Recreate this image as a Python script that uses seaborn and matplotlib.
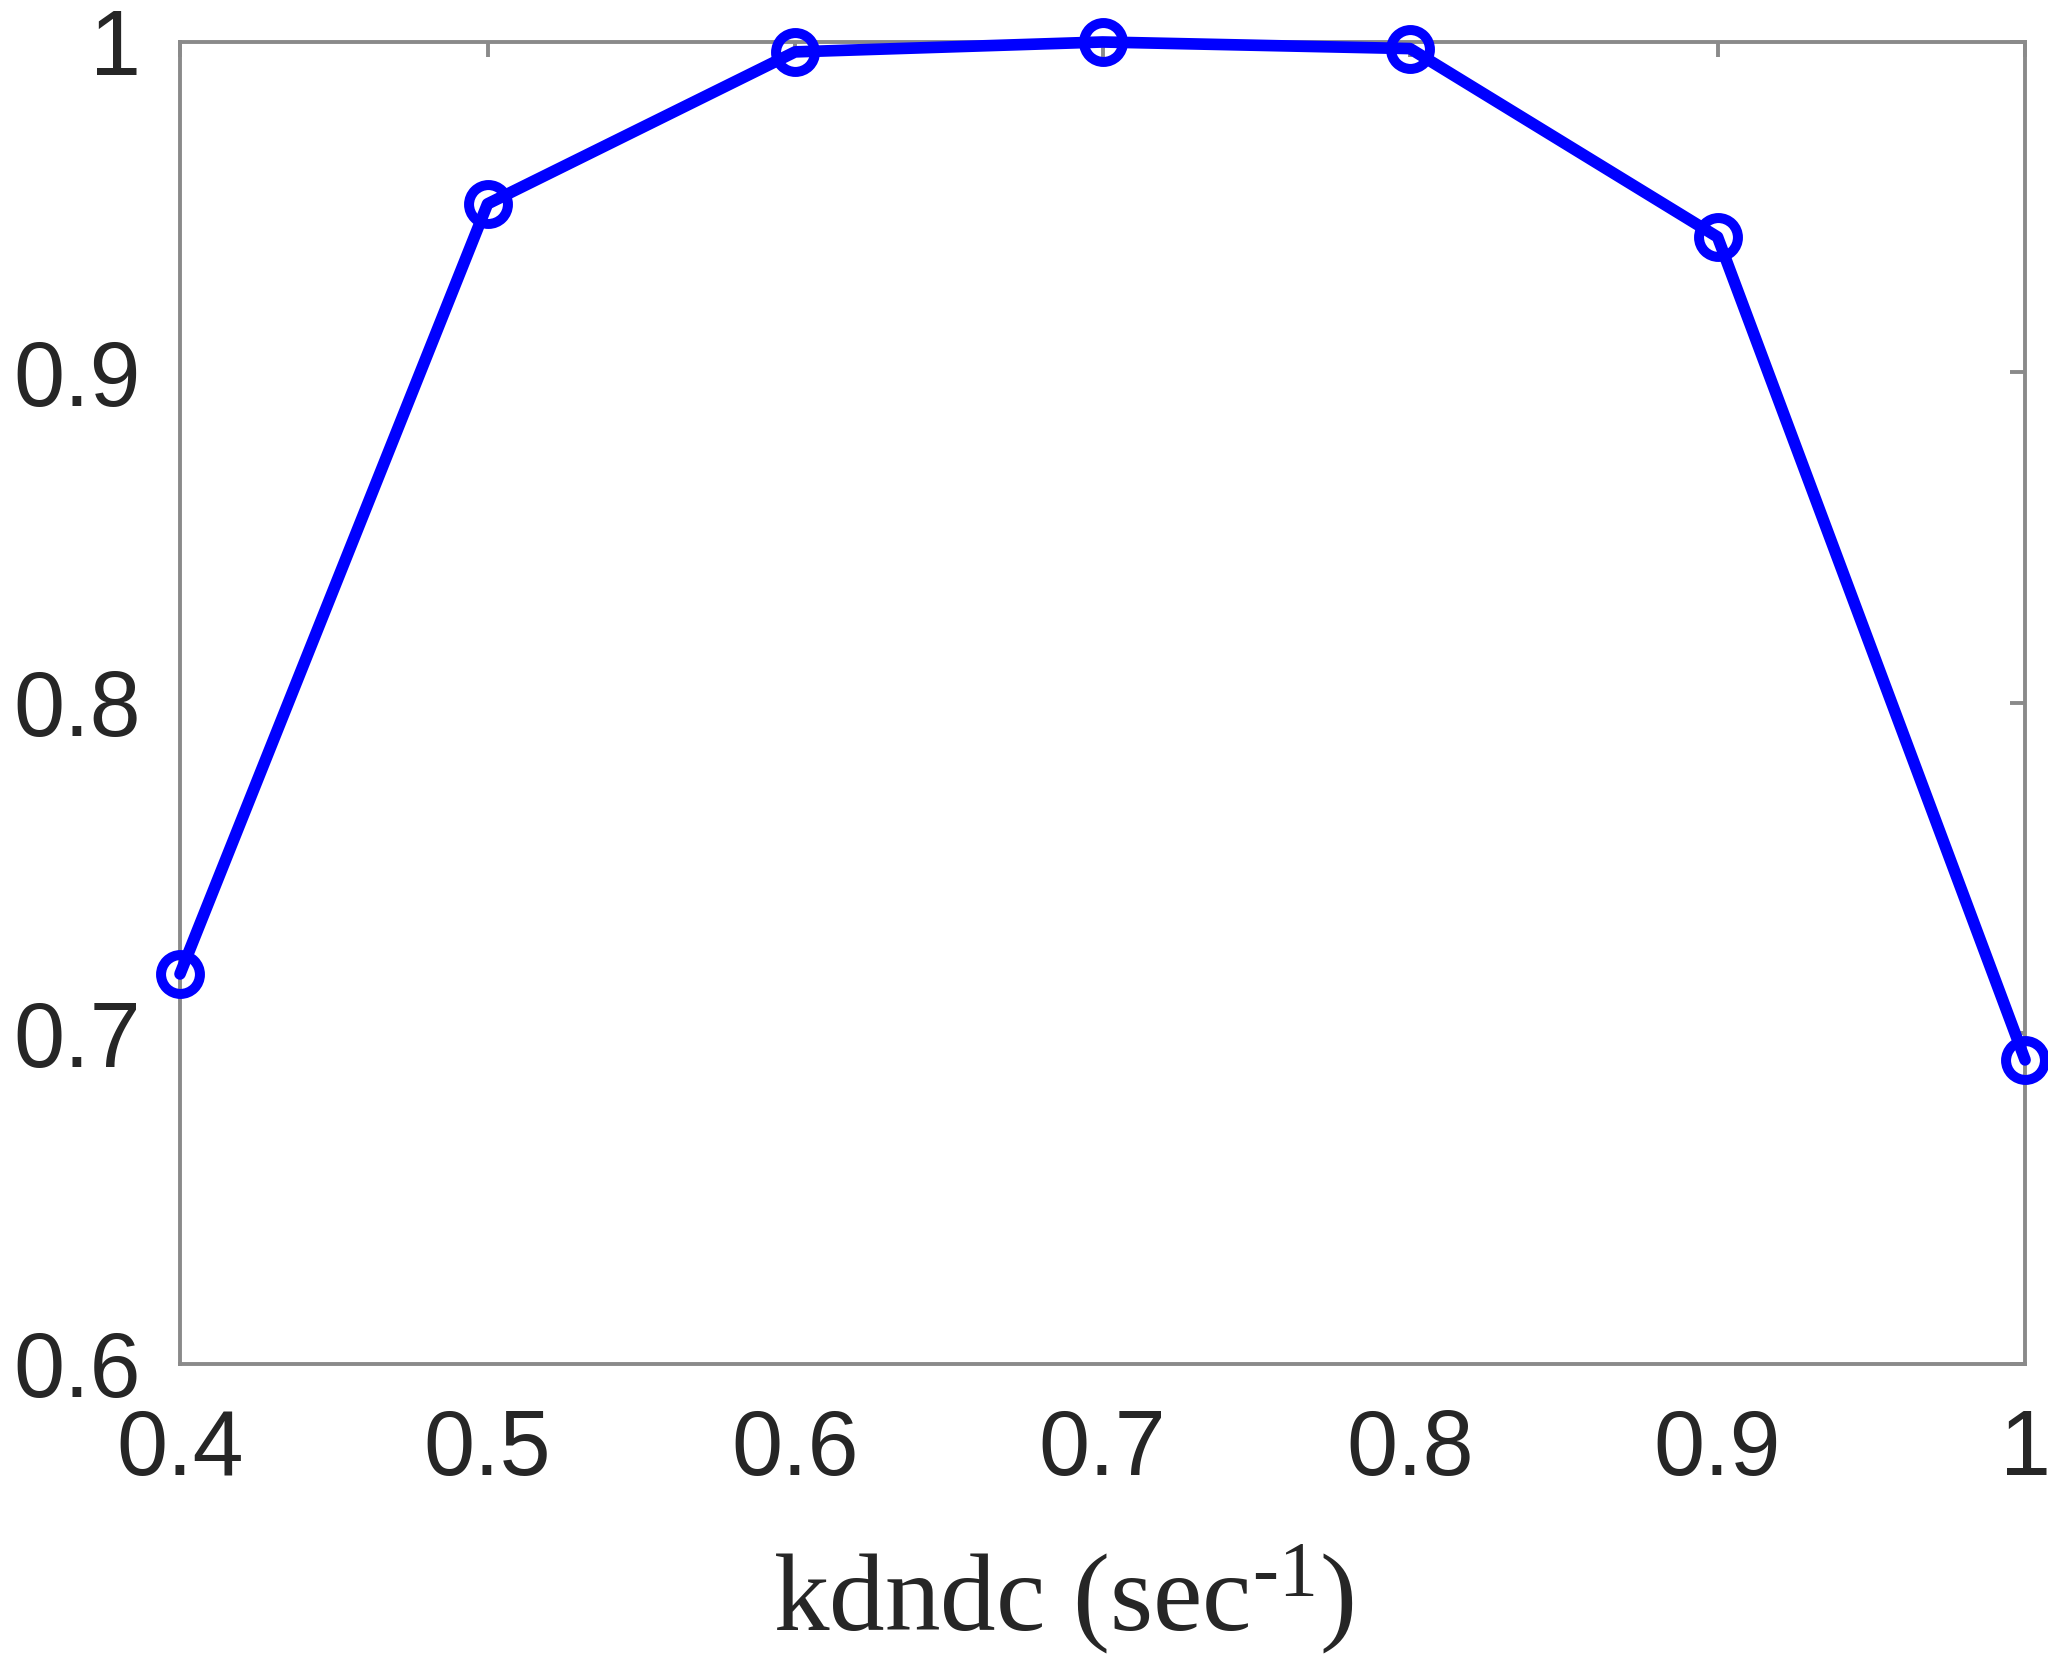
import matplotlib
matplotlib.use("Agg")
import matplotlib.pyplot as plt
import seaborn as sns
import pandas as pd

# Rate constant values and normalized response
kdndc = [0.4, 0.5, 0.6, 0.7, 0.8, 0.9, 1.0]
response = [0.718, 0.951, 0.997, 1.000, 0.998, 0.941, 0.692]

x_ticks = [0.4, 0.5, 0.6, 0.7, 0.8, 0.9, 1.0]
x_tick_labels = ["0.4", "0.5", "0.6", "0.7", "0.8", "0.9", "1"]
y_ticks = [0.6, 0.7, 0.8, 0.9, 1.0]
y_tick_labels = ["0.6", "0.7", "0.8", "0.9", "1"]

df = pd.DataFrame({"kdndc": kdndc, "response": response})

sns.set_theme(style="white")
plt.rcParams["font.family"] = ["Liberation Sans", "DejaVu Sans"]
plt.rcParams["mathtext.fontset"] = "custom"
plt.rcParams["mathtext.rm"] = "Liberation Serif"
plt.rcParams["mathtext.it"] = "Liberation Serif:italic"
plt.rcParams["mathtext.bf"] = "Liberation Serif:bold"

fig = plt.figure(figsize=(10.24, 8.33), dpi=200)
ax = fig.add_axes([0.0879, 0.1813, 0.9009, 0.7935])

sns.lineplot(
    data=df, x="kdndc", y="response", ax=ax,
    color="#0000ff", linewidth=4.2,
    marker="o", markersize=14, markeredgewidth=3.6,
    markerfacecolor="none", markeredgecolor="#0000ff",
    clip_on=False, zorder=3,
)

ax.set_xlim(0.4, 1.0)
ax.set_ylim(0.6, 1.0)
ax.set_xticks(x_ticks)
ax.set_xticklabels(x_tick_labels)
ax.set_yticks(y_ticks)
ax.set_yticklabels(y_tick_labels)

for side in ["left", "right", "top", "bottom"]:
    ax.spines[side].set_visible(True)
    ax.spines[side].set_color("#8a8a8a")
    ax.spines[side].set_linewidth(1.4)

ax.tick_params(axis="both", which="major", direction="in", length=5.5,
               width=1.4, color="#8a8a8a", labelsize=33, labelcolor="#262626",
               top=True, right=True)
ax.tick_params(axis="x", pad=16)
ax.tick_params(axis="y", pad=14)

ax.set_ylabel("")
ax.set_xlabel(r"kdndc (sec$^{\mathrm{\text{-}1}}$)", fontfamily="Liberation Serif",
              fontsize=40, color="#262626")
ax.xaxis.set_label_coords(0.479, -0.135)
ax.xaxis.label.set_verticalalignment("top")

fig.savefig("out.png", dpi=200)
